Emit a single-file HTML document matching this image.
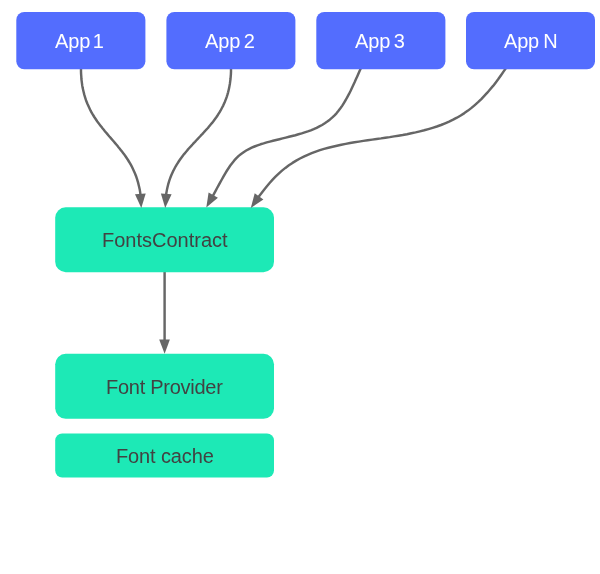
<!DOCTYPE html>
<html><head><meta charset="utf-8">
<style>
html,body{margin:0;padding:0;background:#fff;}
body{width:600px;height:574px;position:relative;overflow:hidden;font-family:"Liberation Sans",sans-serif;}
.t{position:absolute;will-change:transform;font-size:20px;line-height:24px;white-space:nowrap;}
svg{position:absolute;left:0;top:0;}
</style></head><body>
<svg width="600" height="574" viewBox="0 0 600 574">
<g fill="none" stroke="#666666" stroke-width="2.45" stroke-linejoin="round">
<path d="M361.0 68.0 L359.7 70.7 L358.5 73.5 L357.2 76.4 L355.9 79.3 L354.6 82.3 L353.2 85.2 L351.8 88.2 L350.4 91.2 L348.9 94.2 L347.3 97.1 L345.7 100.0 L344.0 102.8 L342.3 105.6 L340.4 108.3 L338.5 110.8 L336.5 113.3 L334.3 115.6 L332.1 117.7 L329.8 119.7 L327.3 121.6 L324.8 123.3 L322.1 125.0 L319.4 126.4 L316.6 127.8 L313.7 129.1 L310.8 130.3 L307.8 131.4 L304.7 132.4 L301.7 133.4 L298.5 134.3 L295.4 135.2 L292.2 136.0 L289.0 136.8 L285.8 137.6 L282.6 138.4 L279.4 139.2 L276.2 140.0 L273.0 140.8 L269.8 141.6 L266.7 142.4 L263.6 143.4 L260.5 144.3 L257.5 145.3 L254.5 146.5 L251.7 147.7 L248.9 149.1 L246.2 150.5 L243.6 152.2 L241.1 154.0 L238.7 155.9 L236.4 158.1 L234.3 160.4 L232.3 162.9 L230.3 165.5 L228.5 168.2 L226.7 171.0 L225.0 173.8 L223.4 176.7 L221.8 179.5 L220.2 182.3 L218.7 185.1 L217.1 188.0 L215.6 190.8 L214.1 193.6 L212.6 196.4 L211.1 199.2"/>
<path d="M506.0 68.0 L503.5 71.6 L501.0 75.2 L498.5 78.8 L495.8 82.4 L493.1 85.9 L490.2 89.3 L487.3 92.7 L484.3 95.9 L481.3 99.1 L478.1 102.2 L474.8 105.1 L471.5 107.9 L468.0 110.6 L464.4 113.1 L460.7 115.5 L456.9 117.7 L453.1 119.7 L449.1 121.6 L445.1 123.3 L441.0 125.0 L436.8 126.5 L432.6 127.8 L428.4 129.1 L424.2 130.3 L419.9 131.4 L415.6 132.4 L411.3 133.3 L407.0 134.2 L402.7 135.0 L398.4 135.7 L394.1 136.4 L389.7 137.1 L385.3 137.7 L381.0 138.4 L376.6 139.0 L372.2 139.6 L367.7 140.3 L363.3 140.9 L358.9 141.6 L354.5 142.3 L350.1 143.0 L345.7 143.9 L341.3 144.7 L336.9 145.7 L332.6 146.7 L328.4 147.8 L324.1 148.9 L319.9 150.2 L315.8 151.6 L311.7 153.2 L307.7 154.8 L303.8 156.6 L300.0 158.5 L296.2 160.6 L292.5 162.9 L288.9 165.3 L285.4 167.9 L282.0 170.6 L278.7 173.6 L275.5 176.7 L272.4 179.9 L269.4 183.2 L266.5 186.7 L263.7 190.2 L261.0 193.7 L258.3 197.3 L255.7 200.9"/>
<path d="M81.0 69.0 L81.0 71.6 L81.1 74.1 L81.3 76.6 L81.4 79.0 L81.7 81.4 L82.0 83.7 L82.3 85.9 L82.7 88.1 L83.2 90.3 L83.7 92.3 L84.2 94.4 L84.8 96.3 L85.4 98.3 L86.0 100.2 L86.7 102.0 L87.4 103.8 L88.2 105.6 L89.0 107.3 L89.8 109.0 L90.6 110.7 L91.5 112.3 L92.4 113.9 L93.4 115.5 L94.3 117.0 L95.3 118.5 L96.3 120.0 L97.3 121.5 L98.4 122.9 L99.4 124.3 L100.5 125.7 L101.6 127.1 L102.7 128.5 L103.8 129.8 L104.9 131.2 L106.0 132.5 L107.2 133.9 L108.3 135.2 L109.4 136.5 L110.6 137.8 L111.7 139.2 L112.9 140.5 L114.0 141.8 L115.1 143.1 L116.3 144.5 L117.4 145.8 L118.5 147.2 L119.6 148.5 L120.7 149.9 L121.8 151.3 L122.9 152.7 L123.9 154.1 L125.0 155.5 L126.0 157.0 L127.0 158.5 L128.0 160.0 L128.9 161.5 L129.9 163.1 L130.8 164.7 L131.7 166.3 L132.5 168.0 L133.3 169.7 L134.1 171.4 L134.9 173.2 L135.6 175.0 L136.3 176.8 L136.9 178.7 L137.5 180.7 L138.1 182.6 L138.6 184.7 L139.1 186.7 L139.6 188.9 L140.0 191.1 L140.3 193.3 L140.6 195.6 L140.9 198.0"/>
<path d="M231.0 69.0 L231.0 71.6 L230.9 74.1 L230.7 76.6 L230.5 79.0 L230.2 81.4 L229.9 83.7 L229.5 85.9 L229.1 88.1 L228.6 90.3 L228.1 92.3 L227.5 94.4 L226.9 96.3 L226.2 98.3 L225.5 100.2 L224.8 102.0 L224.0 103.8 L223.2 105.6 L222.3 107.3 L221.4 109.0 L220.5 110.7 L219.5 112.3 L218.5 113.9 L217.5 115.5 L216.5 117.0 L215.4 118.5 L214.3 120.0 L213.2 121.5 L212.1 122.9 L210.9 124.3 L209.7 125.7 L208.6 127.1 L207.4 128.5 L206.1 129.8 L204.9 131.2 L203.7 132.5 L202.5 133.9 L201.2 135.2 L200.0 136.5 L198.7 137.8 L197.5 139.2 L196.2 140.5 L195.0 141.8 L193.7 143.1 L192.5 144.5 L191.3 145.8 L190.1 147.2 L188.8 148.5 L187.6 149.9 L186.5 151.3 L185.3 152.7 L184.1 154.1 L183.0 155.5 L181.9 157.0 L180.8 158.5 L179.7 160.0 L178.7 161.5 L177.7 163.1 L176.7 164.7 L175.7 166.3 L174.8 168.0 L173.9 169.7 L173.0 171.4 L172.2 173.2 L171.4 175.0 L170.7 176.8 L170.0 178.7 L169.3 180.7 L168.7 182.6 L168.1 184.7 L167.6 186.7 L167.1 188.9 L166.7 191.1 L166.3 193.3 L166.0 195.6 L165.7 198.0"/>
<path d="M164.6 272 L164.6 346"/>
</g>
<rect x="16.3" y="12" width="129.1" height="57.3" rx="8" fill="#536dfe"/>
<rect x="166.4" y="12" width="129" height="57.3" rx="8" fill="#536dfe"/>
<rect x="316.3" y="12" width="129.1" height="57.3" rx="8" fill="#536dfe"/>
<rect x="466" y="12" width="129" height="57.3" rx="8" fill="#536dfe"/>
<rect x="55.2" y="207.3" width="218.8" height="64.9" rx="10.5" fill="#1de9b6"/>
<rect x="55.2" y="353.8" width="218.8" height="65" rx="10.5" fill="#1de9b6"/>
<rect x="55.2" y="433.5" width="218.8" height="44" rx="7" fill="#1de9b6"/>
<g fill="#666666" stroke="none">
<path d="M206.3 207.5 L208.6 192.5 L217.9 197.7Z"/>
<path d="M250.8 208.0 L254.7 193.3 L263.4 199.5Z"/>
<path d="M141.3 208.0 L135.0 194.2 L145.7 193.5Z"/>
<path d="M165.2 208.0 L160.9 193.4 L171.6 194.2Z"/>
<path d="M164.6 353.8 L159.2 339.6 L169.9 339.6Z"/>
</g>
</svg>
<span class="t" style="left:55.4px;top:29px;letter-spacing:-0.05px;word-spacing:-3.2px;color:#fff">App 1</span>
<span class="t" style="left:205.3px;top:29px;letter-spacing:-0.05px;word-spacing:-2.1px;color:#fff">App 2</span>
<span class="t" style="left:355.3px;top:29px;letter-spacing:-0.05px;word-spacing:-2.1px;color:#fff">App 3</span>
<span class="t" style="left:504px;top:29px;letter-spacing:-0.2px;word-spacing:-1.1px;color:#fff">App N</span>
<span class="t" style="left:102px;top:228px;letter-spacing:0px;word-spacing:0px;color:#424242">FontsContract</span>
<span class="t" style="left:105.8px;top:374.5px;letter-spacing:-0.27px;word-spacing:0px;color:#424242">Font Provider</span>
<span class="t" style="left:115.5px;top:444px;letter-spacing:-0.12px;word-spacing:0px;color:#424242">Font cache</span>
</body></html>
